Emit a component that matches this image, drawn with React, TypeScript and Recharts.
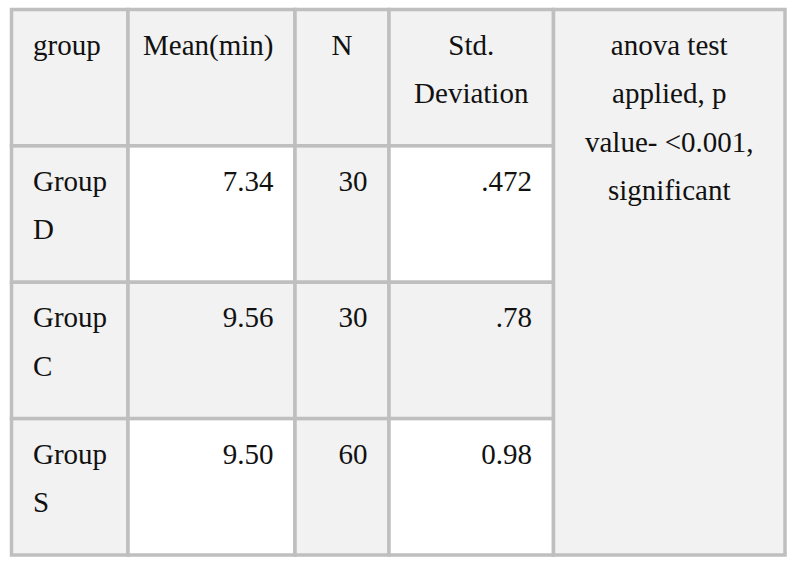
import { ComposedChart, XAxis, YAxis, ReferenceArea } from "recharts";

// table content
const headers = ["group", "Mean(min)", "N", "Std.\nDeviation"];
const groups = ["Group\nD", "Group\nC", "Group\nS"];
const means = ["7.34", "9.56", "9.50"];
const counts = ["30", "30", "60"];
const stdDevs = [".472", ".78", "0.98"];
const note = "anova test\napplied, p\nvalue- <0.001,\nsignificant";

// layout
const COL_EDGES = [0, 116.5, 283.5, 377.5, 542, 773.5];
const ROWS = groups.length + 1;
const GRID = "#bfbfbf";
const SHADE = "#f2f2f2";
const FONT = "Liberation Serif, DejaVu Serif, serif";
const FONT_SIZE = 29;
const LINE_H = 48.5;
const PAD = 21.5;

type Align = "start" | "middle" | "end";
type Cell = {
  key: string;
  c1: number;
  c2: number;
  r1: number;
  r2: number;
  text: string;
  align: Align;
  fill: string;
};

const headerAlign: Align[] = ["start", "end", "middle", "middle"];
const bodyAlign: Align[] = ["start", "end", "end", "end"];

const cells: Cell[] = [];
headers.forEach((h, c) =>
  cells.push({
    key: `h${c}`,
    c1: c,
    c2: c + 1,
    r1: 0,
    r2: 1,
    text: h,
    align: headerAlign[c],
    fill: SHADE,
  })
);
groups.forEach((g, i) => {
  const row = [g, means[i], counts[i], stdDevs[i]];
  row.forEach((t, c) =>
    cells.push({
      key: `r${i}c${c}`,
      c1: c,
      c2: c + 1,
      r1: i + 1,
      r2: i + 2,
      text: t,
      align: bodyAlign[c],
      fill: c === 0 || c === 2 || i === 1 ? SHADE : "#ffffff",
    })
  );
});
cells.push({
  key: "note",
  c1: 4,
  c2: 5,
  r1: 0,
  r2: ROWS,
  text: note,
  align: "middle",
  fill: SHADE,
});

// corner points so the axes have data to span
const extent = [
  { x: 0, y: 0 },
  { x: COL_EDGES[COL_EDGES.length - 1], y: ROWS },
];

function cellShape(cell: Cell) {
  return (props: any) => {
    const { x, y, width, height } = props;
    const tx =
      cell.align === "start"
        ? x + PAD
        : cell.align === "end"
        ? x + width - PAD
        : x + width / 2;
    return (
      <g>
        <rect
          x={x}
          y={y}
          width={width}
          height={height}
          fill={cell.fill}
          stroke={GRID}
          strokeWidth={3.5}
        />
        <text
          x={tx}
          y={y + 45}
          textAnchor={cell.align}
          style={{ fontFamily: FONT, fontSize: FONT_SIZE }}
          fill="#111111"
        >
          {cell.text.split("\n").map((line, i) => (
            <tspan key={i} x={tx} y={y + 45 + i * LINE_H}>
              {line}
            </tspan>
          ))}
        </text>
      </g>
    );
  };
}

export default function App() {
  return (
    <div
      style={{
        position: "absolute",
        left: 0,
        top: 0,
        width: 793,
        height: 563,
        background: "#ffffff",
        fontFamily: FONT,
      }}
    >
      <ComposedChart
        width={793}
        height={563}
        data={extent}
        margin={{ top: 9.5, right: 8, bottom: 8, left: 11.5 }}
      >
        <XAxis
          type="number"
          dataKey="x"
          domain={[0, COL_EDGES[COL_EDGES.length - 1]]}
          allowDataOverflow
          hide
        />
        <YAxis
          type="number"
          dataKey="y"
          domain={[0, ROWS]}
          allowDataOverflow
          reversed
          hide
        />
        {cells.map((cell) => (
          <ReferenceArea
            key={cell.key}
            x1={COL_EDGES[cell.c1]}
            x2={COL_EDGES[cell.c2]}
            y1={cell.r1}
            y2={cell.r2}
            ifOverflow="visible"
            shape={cellShape(cell)}
          />
        ))}
      </ComposedChart>
    </div>
  );
}
